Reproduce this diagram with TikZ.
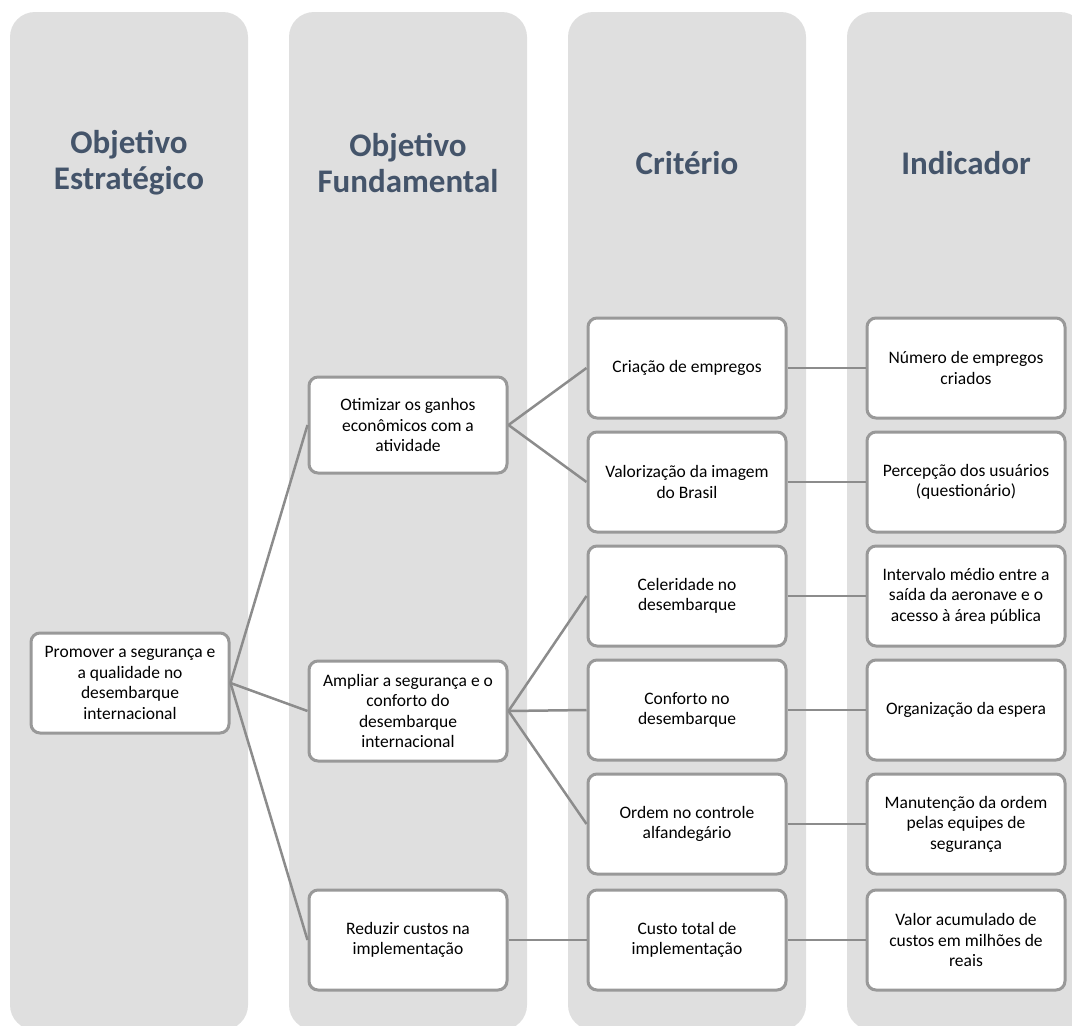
\documentclass[tikz,border=0pt]{standalone}
\usepackage{fontspec}
\setmainfont{Carlito}
\definecolor{colfill}{HTML}{DFDFDF}
\definecolor{boxline}{HTML}{999999}
\definecolor{conn}{HTML}{8C8C8C}
\definecolor{headc}{HTML}{44546A}
\begin{document}
\begin{tikzpicture}[x=1pt,y=-1pt,
  colbg/.style={fill=colfill, rounded corners=25pt},
  head/.style={text=headc, font=\bfseries\fontsize{33}{36}\selectfont, align=center},
  box/.style={draw=boxline, line width=3pt, rounded corners=9pt, fill=white,
    minimum width=198pt, minimum height=100pt, align=center,
    font=\fontsize{17.5}{20.5}\selectfont, inner sep=0pt},
  link/.style={draw=conn, line width=2.5pt}]
\useasboundingbox (0,0) rectangle (1072,1026);
\clip (0,0) rectangle (1072,1026);
\fill[colbg] (10,12) rectangle (248,1030);
\fill[colbg] (289,12) rectangle (527,1030);
\fill[colbg] (568,12) rectangle (806,1030);
\fill[colbg] (847,12) rectangle (1085,1030);
\node[head] (h1) at (129,163) {Objetivo\\Estratégico};
\node[head] (h2) at (408,163) {Objetivo\\Fundamental};
\node[head] (h3) at (687,163) {Critério};
\node[head] (h4) at (966,163) {Indicador};
% column 1
\node[box] (p) at (130,683) {Promover a segurança e\\a qualidade no\\desembarque\\internacional};
% column 2
\node[box, minimum height=96pt] (o1) at (408,425) {Otimizar os ganhos\\econômicos com a\\atividade};
\node[box] (o2) at (408,711) {Ampliar a segurança e o\\conforto do\\desembarque\\internacional};
\node[box] (o3) at (408,940) {Reduzir custos na\\implementação};
% column 3
\node[box] (c1) at (687,368) {Criação de empregos};
\node[box] (c2) at (687,482) {Valorização da imagem\\do Brasil};
\node[box] (c3) at (687,596) {Celeridade no\\desembarque};
\node[box] (c4) at (687,710) {Conforto no\\desembarque};
\node[box] (c5) at (687,824) {Ordem no controle\\alfandegário};
\node[box] (c6) at (687,940) {Custo total de\\implementação};
% column 4
\node[box] (i1) at (966,368) {Número de empregos\\criados};
\node[box] (i2) at (966,482) {Percepção dos usuários\\(questionário)};
\node[box] (i3) at (966,596) {Intervalo médio entre a\\saída da aeronave e o\\acesso à área pública};
\node[box] (i4) at (966,710) {Organização da espera};
\node[box] (i5) at (966,824) {Manutenção da ordem\\pelas equipes de\\segurança};
\node[box] (i6) at (966,940) {Valor acumulado de\\custos em milhões de\\reais};
% connectors
\draw[link] (p.east) -- (o1.west);
\draw[link] (p.east) -- (o2.west);
\draw[link] (p.east) -- (o3.west);
\draw[link] (o1.east) -- (c1.west);
\draw[link] (o1.east) -- (c2.west);
\draw[link] (o2.east) -- (c3.west);
\draw[link] (o2.east) -- (c4.west);
\draw[link] (o2.east) -- (c5.west);
\draw[link] (o3.east) -- (c6.west);
\draw[link] (c1.east) -- (i1.west);
\draw[link] (c2.east) -- (i2.west);
\draw[link] (c3.east) -- (i3.west);
\draw[link] (c4.east) -- (i4.west);
\draw[link] (c5.east) -- (i5.west);
\draw[link] (c6.east) -- (i6.west);
\end{tikzpicture}
\end{document}
